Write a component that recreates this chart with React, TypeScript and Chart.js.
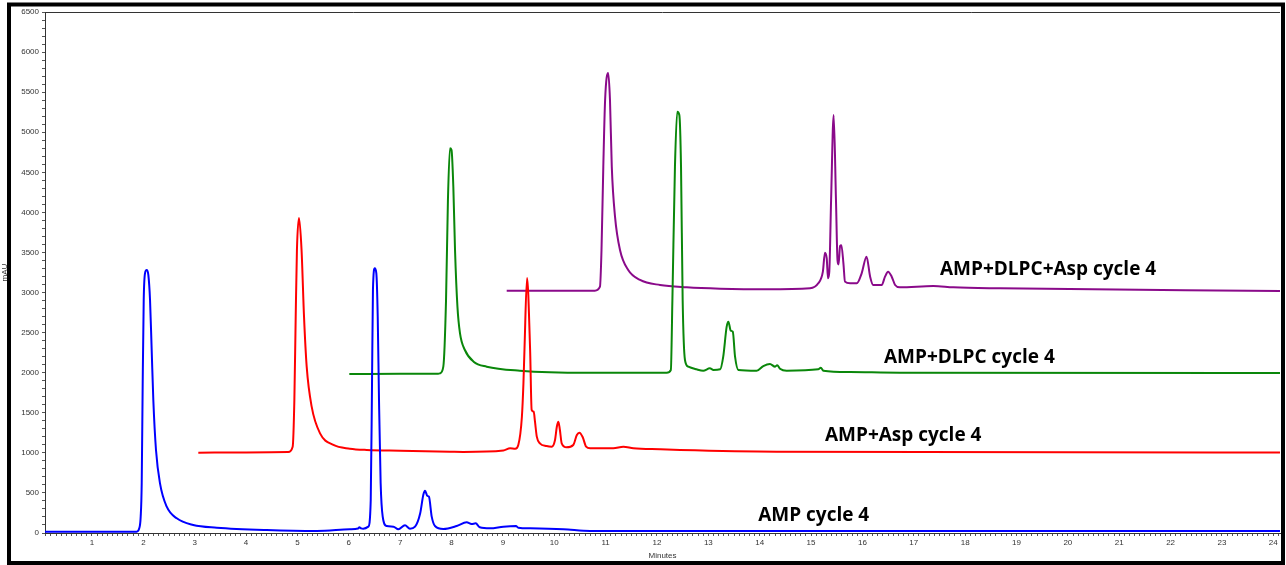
import React, { useEffect, useRef } from 'react';
import { Chart, registerables } from 'chart.js';

Chart.register(...registerables);

// ---- Data (minutes, mAU) ----
const ampX = [0.085, 1.0, 1.6, 1.87, 1.92, 1.948, 1.968, 1.987, 2.007, 2.032, 2.065, 2.097, 2.13, 2.162, 2.194, 2.246, 2.324, 2.455, 2.65, 2.97, 3.43, 4.4, 5.375, 6.02, 6.18, 6.205, 6.24, 6.28, 6.38, 6.427, 6.452, 6.47, 6.505, 6.536, 6.563, 6.588, 6.62, 6.66, 6.737, 6.87, 6.964, 7.094, 7.19, 7.29, 7.39, 7.45, 7.484, 7.53, 7.56, 7.614, 7.678, 7.84, 8.1, 8.295, 8.39, 8.47, 8.55, 8.75, 9.01, 9.255, 9.3, 9.53, 10.18, 10.7, 24.13];
const ampY = [16, 15, 15, 16, 58, 204, 620, 1868, 2907, 3240, 3281, 3219, 2907, 2283, 1659, 1036, 620, 328, 183, 100, 67, 37, 25, 46, 55, 71, 58, 54, 79, 412, 1868, 3032, 3302, 3240, 2699, 1659, 620, 204, 87, 79, 46, 96, 54, 79, 246, 474, 528, 462, 453, 204, 87, 50, 87, 133, 112, 121, 71, 58, 79, 87, 66, 58, 46, 25, 25];

const aspX = [3.07, 4.0, 4.82, 4.907, 4.94, 4.966, 4.99, 5.03, 5.08, 5.128, 5.18, 5.277, 5.44, 5.7, 6.02, 6.35, 7.0, 7.97, 8.23, 9.01, 9.14, 9.24, 9.3, 9.37, 9.4, 9.42, 9.47, 9.53, 9.56, 9.6, 9.625, 9.66, 9.72, 9.85, 9.95, 10.015, 10.05, 10.08, 10.11, 10.145, 10.24, 10.37, 10.44, 10.49, 10.555, 10.62, 10.7, 11.15, 11.345, 11.54, 12.06, 12.45, 14.33, 24.13];
const aspY = [1002, 1005, 1010, 1077, 1659, 2699, 3531, 3930, 3531, 2699, 2075, 1576, 1243, 1098, 1052, 1036, 1027, 1015, 1012, 1030, 1057, 1050, 1098, 1451, 1868, 2283, 3181, 2283, 1535, 1513, 1389, 1202, 1119, 1085, 1077, 1160, 1326, 1389, 1285, 1119, 1069, 1098, 1223, 1251, 1194, 1077, 1057, 1057, 1077, 1057, 1044, 1036, 1015, 1005];

const dlpcX = [6.01, 7.0, 7.74, 7.776, 7.84, 7.893, 7.93, 7.97, 8.0, 8.035, 8.068, 8.115, 8.165, 8.26, 8.43, 8.685, 9.33, 10.63, 12.19, 12.27, 12.3, 12.35, 12.395, 12.435, 12.468, 12.5, 12.545, 12.61, 12.77, 12.9, 13.03, 13.1, 13.23, 13.29, 13.357, 13.39, 13.437, 13.476, 13.52, 13.585, 13.94, 14.07, 14.2, 14.3, 14.34, 14.395, 14.525, 15.14, 15.19, 15.24, 15.76, 16.73, 24.13];
const dlpcY = [1984, 1986, 1986, 1992, 2075, 2907, 4155, 4800, 4779, 4321, 3531, 2824, 2491, 2283, 2137, 2075, 2025, 2000, 2000, 2034, 2907, 4571, 5257, 5215, 4571, 2907, 2158, 2075, 2042, 2025, 2054, 2034, 2042, 2200, 2574, 2636, 2524, 2512, 2200, 2034, 2025, 2083, 2108, 2075, 2094, 2050, 2025, 2042, 2062, 2025, 2008, 2000, 1996];

const dlpcAspX = [9.074, 10.79, 10.89, 10.92, 10.955, 10.99, 11.05, 11.085, 11.12, 11.183, 11.28, 11.44, 11.67, 12.06, 12.58, 13.23, 14.14, 14.98, 15.14, 15.23, 15.27, 15.305, 15.33, 15.355, 15.39, 15.44, 15.485, 15.515, 15.535, 15.565, 15.59, 15.63, 15.66, 15.76, 15.89, 15.985, 16.08, 16.15, 16.21, 16.375, 16.44, 16.5, 16.57, 16.636, 16.73, 17.38, 17.77, 18.68, 24.13];
const dlpcAspY = [3023, 3023, 3073, 3531, 4571, 5402, 5739, 5402, 4571, 3947, 3531, 3281, 3157, 3094, 3065, 3048, 3040, 3053, 3115, 3260, 3497, 3427, 3178, 3260, 4155, 5215, 4155, 3400, 3350, 3580, 3590, 3365, 3136, 3115, 3115, 3240, 3448, 3198, 3094, 3094, 3198, 3260, 3198, 3094, 3065, 3082, 3065, 3053, 3020];

const seriesNames = ['AMP cycle 4', 'AMP+Asp cycle 4', 'AMP+DLPC cycle 4', 'AMP+DLPC+Asp cycle 4'];
const seriesColors = ['#0000ff', '#ff0000', '#0a870a', '#8a0a8a'];

const xTickLabels = [1, 2, 3, 4, 5, 6, 7, 8, 9, 10, 11, 12, 13, 14, 15, 16, 17, 18, 19, 20, 21, 22, 23, 24];
const yTickLabels = [0, 500, 1000, 1500, 2000, 2500, 3000, 3500, 4000, 4500, 5000, 5500, 6000, 6500];

// label anchor (left, baseline) in data units
const labelX = [13.97, 15.27, 16.42, 17.51];
const labelY = [150, 1148, 2121, 3213];

const toPoints = (xs: number[], ys: number[]) => xs.map((x, i) => ({ x, y: ys[i] }));

const framePlugin = {
  id: 'frame',
  beforeDraw(chart: any) {
    const { ctx, width, height } = chart;
    ctx.save();
    ctx.fillStyle = '#ffffff';
    ctx.fillRect(0, 0, width, height);
    ctx.strokeStyle = '#000000';
    ctx.lineWidth = 4;
    ctx.strokeRect(9, 4.5, 1274, 558.5);
    ctx.restore();
  },
  beforeDatasetsDraw(chart: any) {
    const { ctx, chartArea } = chart;
    ctx.save();
    ctx.strokeStyle = '#333333';
    ctx.lineWidth = 1;
    ctx.beginPath();
    ctx.moveTo(chartArea.left, chartArea.top + 0.5);
    ctx.lineTo(chartArea.right, chartArea.top + 0.5);
    ctx.stroke();
    ctx.restore();
  },
  afterDatasetsDraw(chart: any) {
    const { ctx, scales } = chart;
    ctx.save();
    ctx.fillStyle = '#000000';
    ctx.font = 'bold 19px "Open Sans"';
    ctx.textBaseline = 'alphabetic';
    ctx.textAlign = 'left';
    seriesNames.forEach((name, i) => {
      ctx.fillText(name, scales.x.getPixelForValue(labelX[i]), scales.y.getPixelForValue(labelY[i]));
    });
    ctx.restore();
  },
};

export default function App() {
  const ref = useRef<HTMLCanvasElement | null>(null);
  useEffect(() => {
    if (!ref.current) return;
    const datasets = [
      [ampX, ampY],
      [aspX, aspY],
      [dlpcX, dlpcY],
      [dlpcAspX, dlpcAspY],
    ].map(([xs, ys], i) => ({
      label: seriesNames[i],
      data: toPoints(xs, ys),
      borderColor: seriesColors[i],
      backgroundColor: seriesColors[i],
      borderWidth: 2,
      pointRadius: 0,
      fill: false,
      cubicInterpolationMode: 'monotone' as const,
    }));
    const chart = new Chart(ref.current, {
      type: 'line',
      data: { datasets },
      options: {
        animation: false,
        responsive: false,
        layout: { padding: { left: 0, right: 6, top: 12, bottom: 0 } },
        plugins: { legend: { display: false }, tooltip: { enabled: false } },
        scales: {
          x: {
            type: 'linear',
            min: 0.085,
            max: 24.13,
            afterBuildTicks: (scale: any) => {
              const t = [];
              for (let k = 1; k <= 241; k++) t.push({ value: k / 10 });
              scale.ticks = t;
            },
            afterFit: (scale: any) => { scale.height = 32; },
            ticks: {
              autoSkip: false,
              maxRotation: 0,
              padding: 2,
              color: '#333333',
              font: { family: 'Liberation Sans', size: 8 },
              callback: (v: any) => {
                const r = Math.round(Number(v));
                return Math.abs(Number(v) - r) < 1e-6 && xTickLabels.includes(r) ? String(r) : '';
              },
            },
            grid: { drawOnChartArea: false, tickLength: 3, color: '#555555' },
            border: { display: true, color: '#333333', width: 1 },
            title: { display: true, text: 'Minutes', color: '#333333', font: { family: 'Liberation Sans', size: 8 }, padding: { top: 2, bottom: 4 } },
          },
          y: {
            type: 'linear',
            min: 0,
            max: 6500,
            afterFit: (scale: any) => { scale.width = 45; },
            ticks: {
              stepSize: 100,
              autoSkip: false,
              padding: 3,
              color: '#333333',
              font: { family: 'Liberation Sans', size: 8 },
              callback: (v: any) => (yTickLabels.includes(Number(v)) ? String(v) : ''),
            },
            grid: { drawOnChartArea: false, tickLength: 3, color: '#555555' },
            border: { display: true, color: '#333333', width: 1 },
            title: { display: true, text: 'mAU', color: '#333333', font: { family: 'Liberation Sans', size: 8 }, padding: 0 },
          },
        },
      },
      plugins: [framePlugin],
    });
    return () => chart.destroy();
  }, []);
  return (
    <div style={{ position: 'fixed', left: 0, top: 0, width: 1286, height: 565, background: '#fff' }}>
      <canvas ref={ref} width={1286} height={565} style={{ display: 'block' }} />
    </div>
  );
}
